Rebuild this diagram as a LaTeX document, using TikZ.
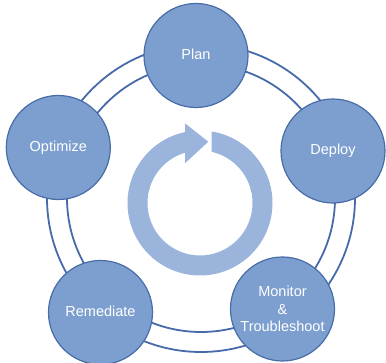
\documentclass[tikz,border=0pt]{standalone}
\usepackage{fontspec}
\setmainfont{Liberation Sans}
\definecolor{stagefill}{RGB}{125,159,207}
\definecolor{stageedge}{RGB}{72,108,168}
\definecolor{ringblue}{RGB}{70,106,170}
\definecolor{arrowblue}{RGB}{155,180,220}

\begin{document}
\begin{tikzpicture}[x=1pt, y=1pt,
                    stagenode/.style={circle, draw=stageedge, line width=1.2pt, fill=stagefill, minimum size=104pt, inner sep=0pt,
                                      text=white, font=\fontsize{14.5}{17.5}\selectfont, align=center},
                    oneline/.style={text height=0.72em, text depth=0pt},
                    ringline/.style={draw=ringblue, line width=1.8pt},]
    \useasboundingbox (0,0) rectangle (386,363);
    % ring
    \coordinate (hub) at (201,165);
    \draw[ringline] (hub) circle[radius=154];
    \draw[ringline] (hub) circle[radius=134];
    % arrow
    \begin{scope}[shift={(200,160)}]
        \fill[arrowblue] (80.7:72.5) arc[start angle=80.7, end angle=-258.1, radius=72.5]
            -- (-15,79.7) -- (8.3,61.3) -- (-15,39.7)
            -- (106.6:52.5) arc[start angle=106.6, end angle=437.1, radius=52.5] -- cycle;
    \end{scope}
    % nodes
    \node[stagenode, oneline] (plan)      at (196,307.5)  {Plan};
    \node[stagenode, oneline] (deploy)    at (333,212)    {Deploy};
    \node[stagenode]          (monitor)   at (282.5,54)   {Monitor\\\&\\Troubleshoot};
    \node[stagenode, oneline] (remediate) at (100.5,50.5) {Remediate};
    \node[stagenode, oneline] (optimize)  at (58.3,215.5) {Optimize};
\end{tikzpicture}
\end{document}
